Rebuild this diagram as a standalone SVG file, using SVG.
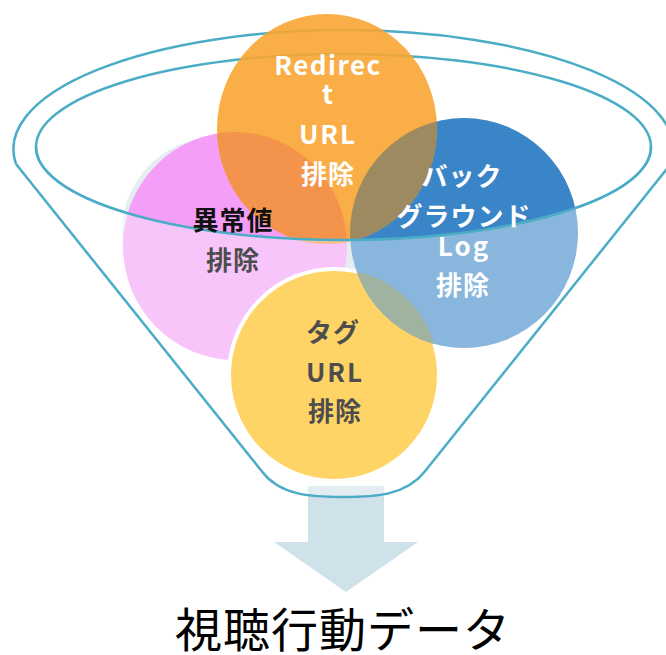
<svg xmlns="http://www.w3.org/2000/svg" width="666" height="655" viewBox="0 0 666 655">
  <style>
    .rim { fill: none; stroke: #4bacc6; stroke-width: 2.5; }
    .lbl { font-family: "Noto Sans CJK JP", "Noto Sans", sans-serif; font-weight: bold; font-size: 26px; text-anchor: middle; letter-spacing: 1px; }
    .lat { letter-spacing: 2px; }
    .w { fill: #ffffff; }
    .k { fill: #111111; }
    .g { fill: #4d4d4d; }
  </style>
  <defs>
    <clipPath id="clipOrange"><ellipse cx="327" cy="129" rx="110" ry="115"/></clipPath>
    <clipPath id="clipBlue"><ellipse cx="464" cy="233" rx="114" ry="115"/></clipPath>
    <mask id="bodyMask" maskUnits="userSpaceOnUse" x="0" y="0" width="666" height="655">
      <path d="M16,164 L262.4,472 C280,495 310,497 343.4,497 C376,497 406,495 424.4,472 L670.8,164 Z" fill="#ffffff"/>
      <ellipse cx="343.5" cy="147" rx="307.5" ry="93" fill="#000000"/>
    </mask>
  </defs>

  <!-- back of funnel rim -->
  <g id="funnel-back">
    <path class="rim" d="M16,164 A330,119 0 1 1 670.8,164"/>
    <ellipse class="rim" cx="343.5" cy="147" rx="307.5" ry="93"/>
  </g>

  <!-- output arrow -->
  <g id="arrow">
    <path d="M308,486 L384,486 L384,542 L418,542 L346,592 L274,542 L308,542 Z" fill="#cfe2ea"/>
  </g>

  <!-- pale background patches -->
  <g id="pale">
    <circle cx="217" cy="232" r="95" fill="#e4edf1"/>
    <circle cx="346" cy="252" r="30" fill="#d4e1e8"/>
  </g>

  <g id="node-pink">
    <ellipse cx="235" cy="246" rx="112" ry="114" fill="#f49ef7"/>
  </g>

  <g id="node-yellow">
    <ellipse cx="334" cy="375" rx="105" ry="106" fill="#fdb800" stroke="#ffffff" stroke-width="4"/>
  </g>

  <g id="node-blue">
    <ellipse cx="464" cy="233" rx="114" ry="115" fill="#3a85c7"/>
    <ellipse cx="334" cy="375" rx="105" ry="106" fill="#617f61" clip-path="url(#clipBlue)"/>
  </g>

  <g id="node-orange" opacity="0.9">
    <ellipse cx="327" cy="129" rx="110" ry="115" fill="#f9a634"/>
    <ellipse cx="235" cy="246" rx="112" ry="114" fill="#f5933a" clip-path="url(#clipOrange)"/>
    <ellipse cx="464" cy="233" rx="114" ry="115" fill="#a88b55" clip-path="url(#clipOrange)"/>
  </g>

  <!-- translucent front body of the funnel -->
  <g id="funnel-body">
    <rect x="0" y="0" width="666" height="655" fill="#ffffff" fill-opacity="0.4" mask="url(#bodyMask)"/>
  </g>

  <!-- front of funnel -->
  <g id="connectors">
    <path class="rim" d="M36,147 A307.5,93 0 0 0 651,147"/>
    <path class="rim" d="M16,164 L262.4,472 C280,495 310,497 343.4,497 C376,497 406,495 424.4,472 L670.8,164"/>
  </g>

  <g id="label-orange">
    <text class="lbl w lat" x="328" y="75" style="letter-spacing:1.5px">Redirec</text>
    <text class="lbl w" x="328" y="104">t</text>
    <text class="lbl w lat" x="328" y="144">URL</text>
    <text class="lbl w" x="328" y="184">排除</text>
  </g>
  <g id="label-pink">
    <text class="lbl k" x="233" y="230">異常値</text>
    <text class="lbl g" x="233" y="270">排除</text>
  </g>
  <g id="label-blue">
    <text class="lbl w" x="462" y="186">バック</text>
    <text class="lbl w" x="464" y="226">グラウンド</text>
    <text class="lbl w lat" x="464" y="256">Log</text>
    <text class="lbl w" x="463" y="295">排除</text>
  </g>
  <g id="label-yellow">
    <text class="lbl g" x="333" y="342">タグ</text>
    <text class="lbl g lat" x="335" y="382">URL</text>
    <text class="lbl g" x="335" y="421">排除</text>
  </g>
  <g id="output-label">
    <text x="343" y="647" font-family="Noto Sans CJK JP, Noto Sans, sans-serif" font-size="47" letter-spacing="1" fill="#000000" text-anchor="middle">視聴行動データ</text>
  </g>
</svg>
